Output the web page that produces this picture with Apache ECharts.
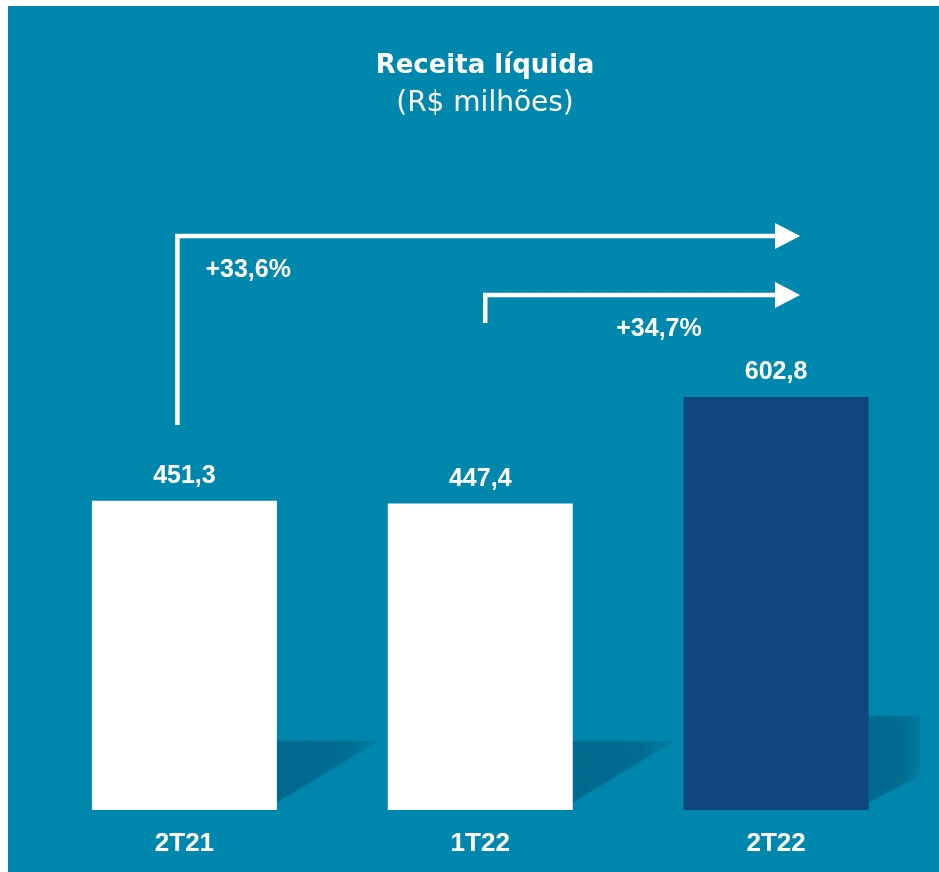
<!DOCTYPE html>
<html>
<head>
<meta charset="utf-8">
<style>
  html, body { margin: 0; padding: 0; background: #ffffff; }
  #chart { position: absolute; left: 8px; top: 6px; width: 931px; height: 866px; }
</style>
<script src="https://cdn.jsdelivr.net/npm/echarts@6/dist/echarts.min.js"></script>
</head>
<body>
<div id="chart"></div>
<script>
// dados do gráfico
var categories = ['2T21', '1T22', '2T22']
var receita = [451.3, 447.4, 602.8]
// setas de variação: [categoria inicial, categoria final]
var growthPairs = [[0, 2], [1, 2]]
var growthLabels = ['+33,6%', '+34,7%']

var BG = '#0087ae'
var BAR_COLORS = ['#ffffff', '#ffffff', '#0f467d']
var BAR_WIDTH = 185

// layout das setas (px acima da base do gráfico)
var arrowLayout = [
  { startX: -7, start: 385, level: 574, labelDx: 28, labelDy: 34 },
  { startX: 5, start: 487, level: 515, labelDx: 131, labelDy: 34 }
]

function fmt(v) {
  return String(v).replace('.', ',')
}

var chart = echarts.init(document.getElementById('chart'))

function renderShadow(params, api) {
  var idx = api.value(0)
  var top = api.coord([idx, api.value(1)])
  var base = api.coord([idx, 0])
  var cs = params.coordSys
  var right = base[0] + BAR_WIDTH / 2
  var h = (base[1] - top[1]) * 0.237
  var w = Math.min(100, cs.x + cs.width - right - 4)
  var yTop = base[1] - h + 4
  var yRight = Math.max(yTop, base[1] - w * 0.68)
  return {
    type: 'polygon',
    shape: { points: [[right - 6, yTop], [right + w, yTop], [right + w, yRight], [right - 6, base[1] - 4]] },
    style: {
      fill: new echarts.graphic.LinearGradient(0, 0, 1, 0, [
        { offset: 0, color: 'rgba(0,50,80,0.3)' },
        { offset: 0.7, color: 'rgba(0,50,80,0.26)' },
        { offset: 1, color: 'rgba(0,50,80,0.1)' }
      ]),
      shadowBlur: 12,
      shadowColor: 'rgba(0,50,80,0.35)'
    }
  }
}

function renderArrow(params, api) {
  var lay = arrowLayout[params.dataIndex]
  var from = api.coord([api.value(0), 0])
  var to = api.coord([api.value(1), 0])
  var x0 = from[0] + lay.startX
  var y0 = from[1] - lay.start
  var yl = from[1] - lay.level
  var tip = to[0] + 24
  var headBase = tip - 25
  return {
    type: 'group',
    children: [
      {
        type: 'polyline',
        shape: { points: [[x0, y0], [x0, yl], [headBase, yl]] },
        style: { stroke: '#ffffff', lineWidth: 4.5, fill: null }
      },
      {
        type: 'polygon',
        shape: { points: [[headBase, yl - 13], [tip, yl], [headBase, yl + 13]] },
        style: { fill: '#ffffff' }
      },
      {
        type: 'text',
        x: x0 + lay.labelDx,
        y: yl + lay.labelDy,
        style: {
          text: growthLabels[params.dataIndex],
          fill: '#ffffff',
          font: 'bold 25px "Liberation Sans", Arial, sans-serif',
          verticalAlign: 'middle',
          align: 'left'
        }
      }
    ]
  }
}

chart.setOption({
  backgroundColor: BG,
  animation: false,
  title: {
    text: 'Receita líquida',
    subtext: '(R$ milhões)',
    left: 472,
    top: 40,
    textAlign: 'center',
    itemGap: 8,
    textStyle: {
      color: '#ffffff',
      fontFamily: 'DejaVu Sans',
      fontWeight: 'bold',
      fontSize: 26,
      lineHeight: 30
    },
    subtextStyle: {
      color: '#ffffff',
      fontFamily: 'DejaVu Sans',
      fontSize: 28,
      lineHeight: 30
    }
  },
  grid: {
    left: 28.5,
    right: 15,
    top: 119,
    bottom: 62
  },
  xAxis: {
    type: 'category',
    data: categories,
    axisLine: { show: false },
    axisTick: { show: false },
    axisLabel: {
      color: '#ffffff',
      fontFamily: '"Liberation Sans", Arial, sans-serif',
      fontWeight: 'bold',
      fontSize: 26,
      margin: 21
    }
  },
  yAxis: {
    type: 'value',
    min: 0,
    max: 1000,
    show: false,
    splitLine: { show: false }
  },
  series: [
    {
      type: 'custom',
      z: 1,
      clip: false,
      renderItem: renderShadow,
      data: receita.map(function(v, i) { return [i, v] })
    },
    {
      type: 'bar',
      z: 2,
      barWidth: BAR_WIDTH,
      data: receita.map(function(v, i) {
        return { value: v, itemStyle: { color: BAR_COLORS[i] } }
      }),
      label: {
        show: true,
        position: 'top',
        distance: 12,
        color: '#ffffff',
        fontFamily: '"Liberation Sans", Arial, sans-serif',
        fontWeight: 'bold',
        fontSize: 25,
        formatter: function(p) { return fmt(p.value) }
      }
    },
    {
      type: 'custom',
      z: 3,
      clip: false,
      renderItem: renderArrow,
      data: growthPairs
    }
  ]
})
</script>
</body>
</html>
